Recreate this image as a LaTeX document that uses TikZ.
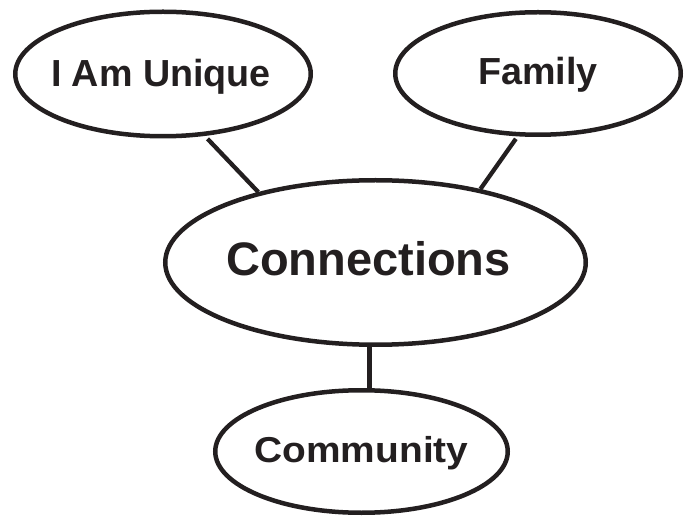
\documentclass[tikz,border=0pt]{standalone}
\usepackage{fontspec}
\setmainfont{Liberation Sans}
\newfontfamily\wideface[FakeStretch=1.08]{Liberation Sans}
\usetikzlibrary{shapes.geometric}
\definecolor{ink}{RGB}{35,31,32}
\tikzset{
  bubble/.style={ellipse, draw=ink, text=ink, line width=4.5pt, inner sep=0pt},
  link/.style={draw=ink, line width=4.3pt},
}
\begin{document}
\begin{tikzpicture}[x=1pt,y=1pt]
\useasboundingbox (0,0) rectangle (685,517);
\node[bubble, minimum width=295.5pt, minimum height=124.5pt, text height=27pt, text depth=1pt,
      font=\bfseries\fontsize{37.7}{40}\selectfont] (uniq) at (163,443) {\makebox[0pt]{I Am Unique\kern4pt}};
\node[bubble, minimum width=285.5pt, minimum height=122.5pt, text height=27pt, text depth=4pt,
      font=\bfseries\fontsize{37.7}{40}\selectfont] (fam) at (538,443.5) {\makebox[0pt]{Family}};
\node[bubble, minimum width=420.5pt, minimum height=164.5pt, text height=33.6pt, text depth=8pt,
      font=\bfseries\fontsize{47}{50}\selectfont] (conn) at (375.5,254.5) {\makebox[0pt]{Connections\kern14pt}};
\node[bubble, minimum width=292.5pt, minimum height=122.5pt, text height=25.8pt, text depth=4.8pt,
      font=\wideface\bfseries\fontsize{36}{39}\selectfont] (comm) at (361.5,65.5) {\makebox[0pt]{Community}};
\draw[link, shorten <=4pt] (uniq.-56.6) -- (conn.149.25);
\draw[link, shorten <=3pt] (fam.-108.9) -- (conn.35.5);
\draw[link] (conn.-94.5) -- (conn.-94.5 |- comm.north);
\end{tikzpicture}
\end{document}
